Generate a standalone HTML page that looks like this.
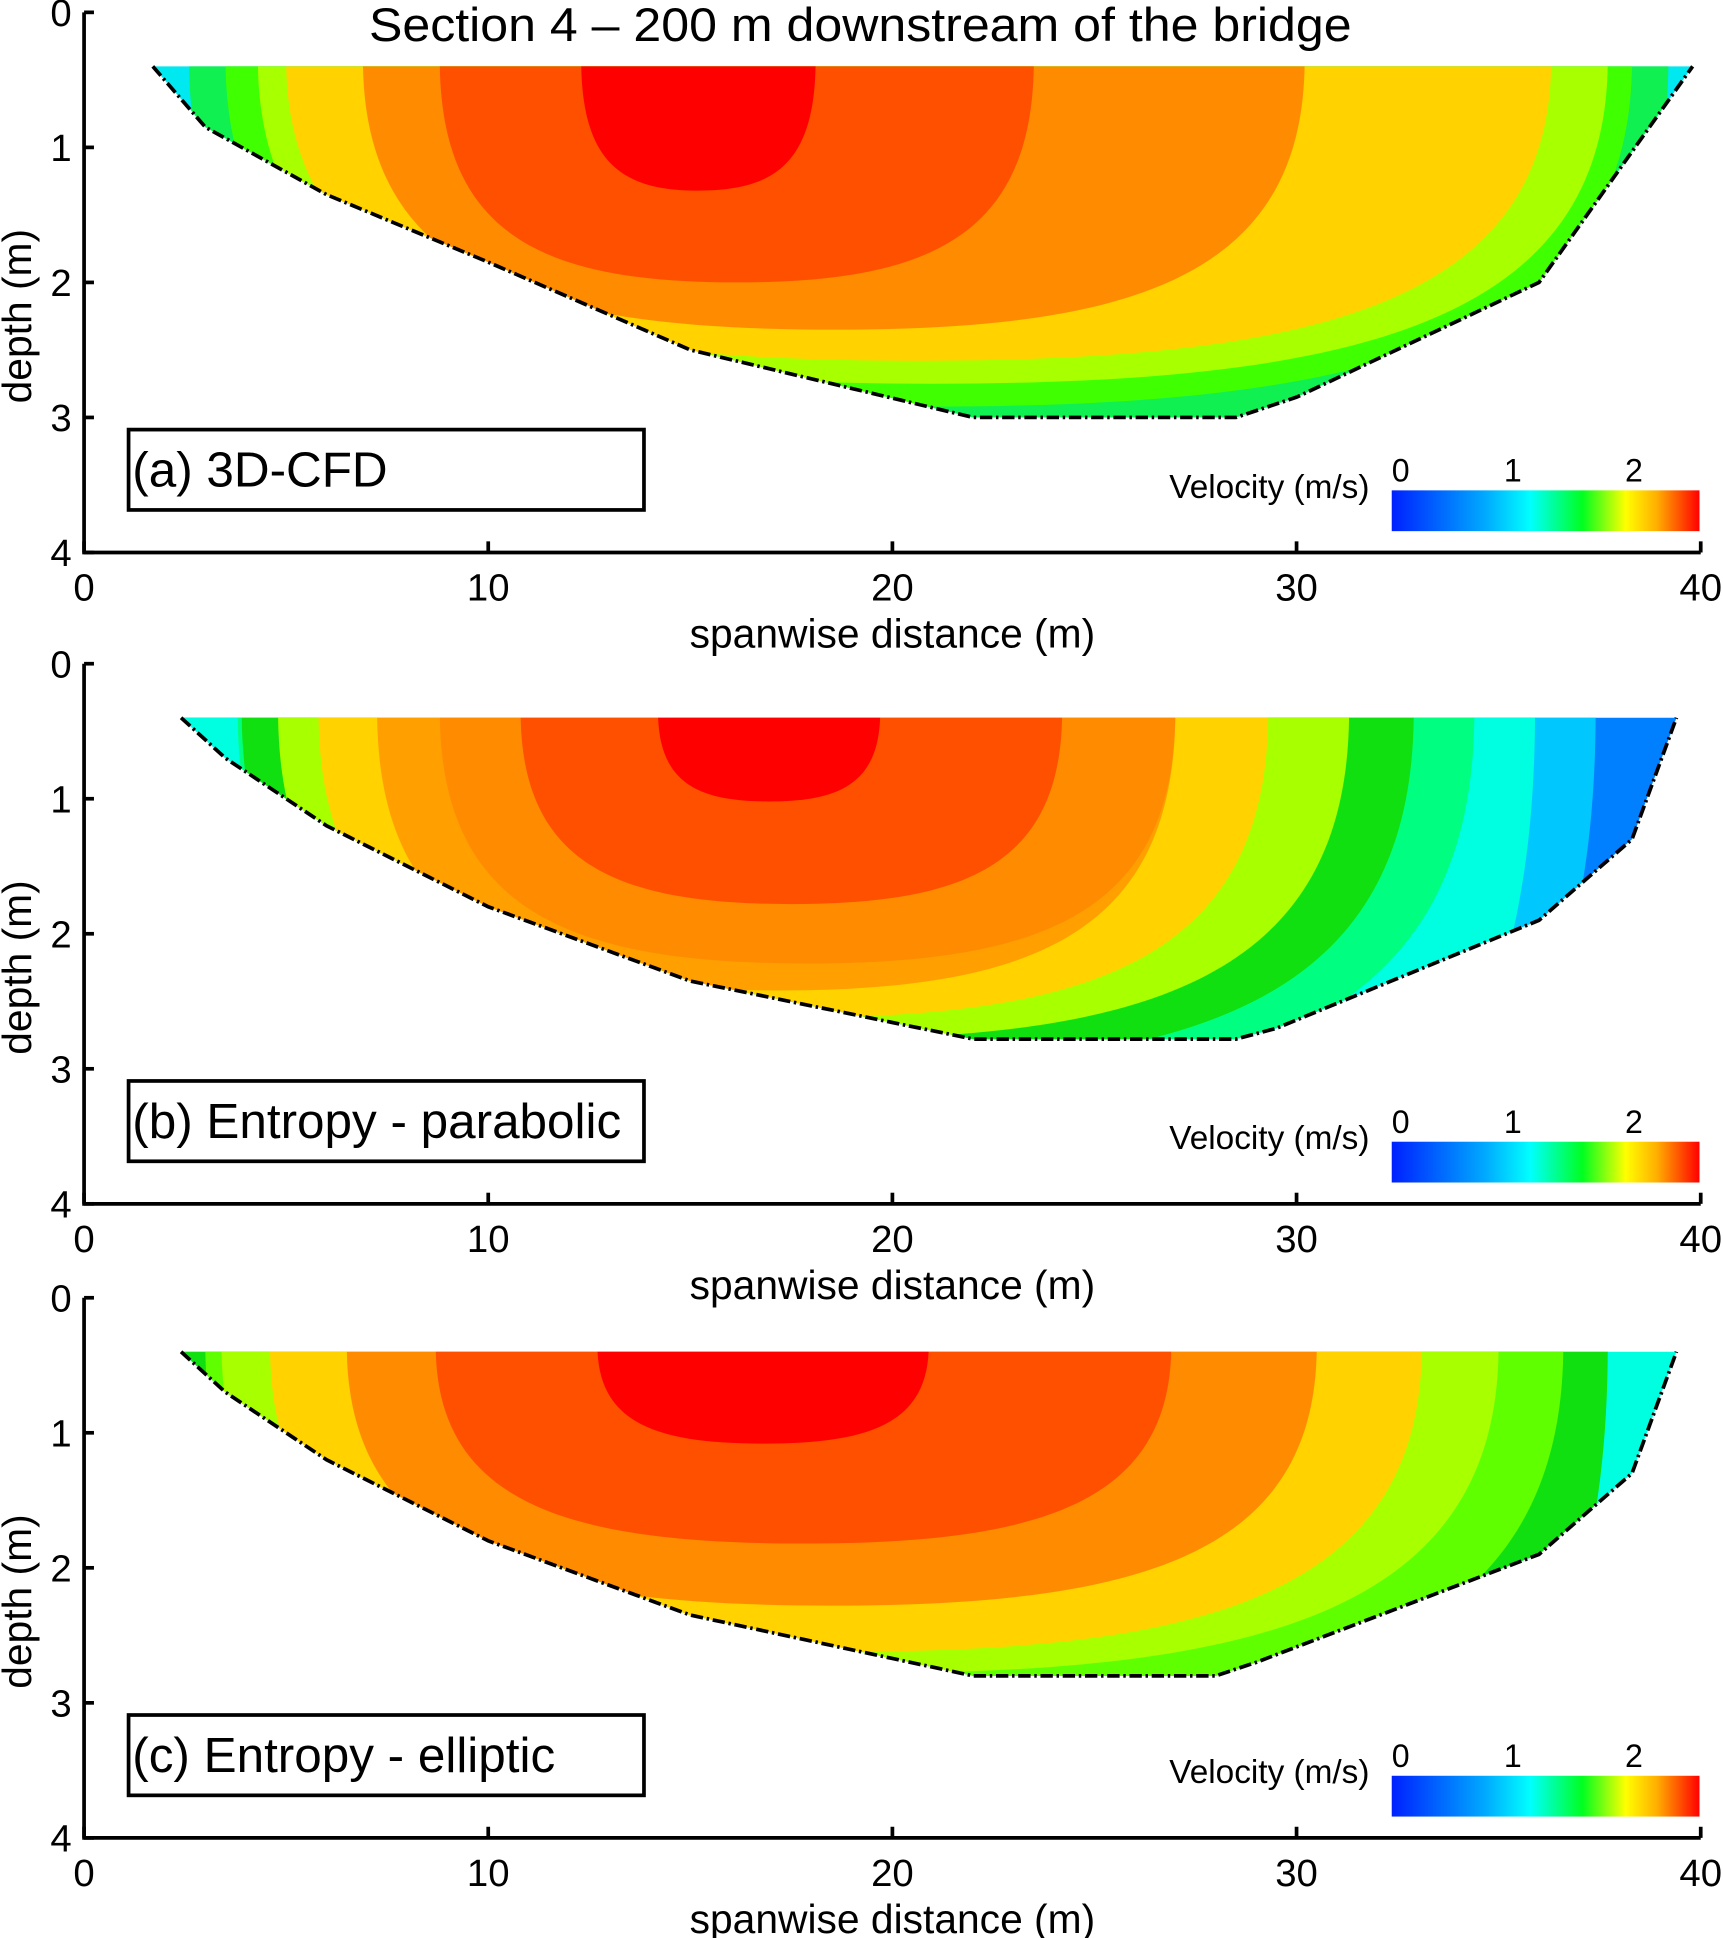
<!DOCTYPE html>
<html><head><meta charset="utf-8"><style>
html,body{margin:0;padding:0;background:#fff}
svg{display:block}
text{font-family:"Liberation Sans",Arial,sans-serif;fill:#000}
</style></head><body>
<svg id="chart" width="1723" height="1938" viewBox="0 0 1394 1568" xmlns="http://www.w3.org/2000/svg">
<defs>
<linearGradient id="jet" x1="0" x2="1" y1="0" y2="0">
<stop offset="0" stop-color="#0020ff"/><stop offset="0.3" stop-color="#00a8ff"/><stop offset="0.45" stop-color="#00ffff"/><stop offset="0.62" stop-color="#00ff20"/><stop offset="0.76" stop-color="#ffff00"/><stop offset="0.86" stop-color="#ffb000"/><stop offset="1" stop-color="#ff0000"/>
</linearGradient>
</defs>
<text x="696" y="33" font-size="38" text-anchor="middle" textLength="795" lengthAdjust="spacingAndGlyphs">Section 4 – 200 m downstream of the bridge</text>
</svg>
<script>
// panel layout: y of depth 0 for each panel
const panelTops = [10, 537, 1050];
const panelLabels = ["(a) 3D-CFD", "(b) Entropy - parabolic", "(c) Entropy - elliptic"];
const xTicks = [0, 10, 20, 30, 40];
const yTicks = [0, 1, 2, 3, 4];
const surfaceDepth = 0.4;
// bed profiles (spanwise m, depth m)
const bedA = [[1.7,0.4],[3,0.85],[6,1.35],[10,1.85],[15,2.5],[22,3.0],[28.5,3.0],[30,2.85],[36,2.0],[39.8,0.4]];
const bedB = [[2.4,0.4],[3.5,0.7],[6,1.2],[10,1.8],[15,2.35],[22,2.78],[28.5,2.78],[29.5,2.7],[36,1.9],[38.3,1.3],[39.4,0.4]];
const bedC = [[2.4,0.4],[3.5,0.7],[6,1.2],[10,1.8],[15,2.35],[22,2.8],[28,2.8],[29,2.7],[36,1.9],[38.3,1.3],[39.4,0.4]];
// contour bands: [leftX, rightX, depth, color]
const bandsA = [[-1,42,5,"#00e8f0"],[2.6,39.2,3.3,"#10f050"],[3.5,38.3,2.92,"#40ff00"],[4.3,37.7,2.75,"#a8ff00"],[5.0,36.3,2.58,"#ffd200"],[6.9,30.2,2.35,"#ff8c00"],[8.8,23.5,2.0,"#ff5000"],[12.3,18.1,1.32,"#ff0000"]];
const bandsB = [[-1,42,5,"#0080ff"],[-1,37.4,5,"#00c8ff"],[-1,35.9,5,"#00ffe0"],[3.8,34.4,3.2,"#00ff80"],[3.9,32.9,3.0,"#10e010"],[4.8,31.3,2.78,"#a8ff00"],[5.8,29.3,2.62,"#ffd200"],[7.25,27.0,2.42,"#ffa000"],[8.8,27.0,2.22,"#ff8c00"],[10.8,24.2,1.78,"#ff5000"],[14.2,19.7,1.02,"#ff0000"]];
const bandsC = [[-1,42,5,"#00ffe0"],[-1,37.7,5,"#10e010"],[3.0,36.6,3.1,"#60ff00"],[3.4,35.0,2.78,"#a8ff00"],[4.6,33.1,2.62,"#ffd200"],[6.5,30.5,2.28,"#ff8c00"],[8.7,26.9,1.82,"#ff5000"],[12.7,20.9,1.08,"#ff0000"]];
const beds = [bedA, bedB, bedC];
const bands = [bandsA, bandsB, bandsC];
const cbTicks = [0, 1, 2];

const NS = "http://www.w3.org/2000/svg";
const svg = document.getElementById("chart");
const X0 = 68, X1 = 1376, H = 437;
const sx = v => X0 + v * (X1 - X0) / 40;
function mk(tag, attrs, parent) {
  const e = document.createElementNS(NS, tag);
  for (const k in attrs) e.setAttribute(k, attrs[k]);
  (parent || svg).appendChild(e);
  return e;
}
panelTops.forEach((top, p) => {
  const sy = d => top + d * H / 4;
  const g = mk("g", {});
  
  
  const bed = beds[p];
  const poly = [[bed[0][0], surfaceDepth]].concat(bed).concat([[bed[bed.length-1][0], surfaceDepth]]);
  const pts = poly.map(q => sx(q[0]) + "," + sy(q[1])).join(" ");
  const cp = mk("clipPath", {id: "clip" + p}, g);
  mk("polygon", {points: pts}, cp);
  const cg = mk("g", {"clip-path": "url(#clip" + p + ")"}, g);
  bands[p].forEach((b, i) => {
    const L = sx(b[0]), R = sx(b[1]), s = sy(surfaceDepth - 0.05), d = sy(b[2]);
    const m = (L + R) / 2, w = R - L, h = d - s;
    const path = mk("path", {d: `M${L},${s} C${L},${s+h*0.8} ${L+w*0.18},${d} ${m},${d} C${R-w*0.18},${d} ${R},${s+h*0.8} ${R},${s} Z`, fill: b[3]}, cg);
    
    
  });
  const bl = mk("polyline", {points: bed.map(q => sx(q[0]) + "," + sy(q[1])).join(" "), fill: "none", stroke: "#000", "stroke-width": 3, "stroke-dasharray": "10,3,2,3"}, g);
  
  
  // axes
  const ax = mk("path", {d: `M${X0},${sy(0)} V${sy(4)} H${X1}`, fill: "none", stroke: "#000", "stroke-width": 3}, g);
  
  
  yTicks.forEach(t => {
    mk("line", {x1: X0, x2: X0 + 8, y1: sy(t), y2: sy(t), stroke: "#000", "stroke-width": 3}, g);
    const tl = mk("text", {x: X0 - 10, y: sy(t) + 11, "font-size": 31, "text-anchor": "end"}, g);
    tl.textContent = t;
    
    
  });
  xTicks.forEach(t => {
    mk("line", {x1: sx(t), x2: sx(t), y1: sy(4), y2: sy(4) - 9, stroke: "#000", "stroke-width": 3}, g);
    const tl = mk("text", {x: sx(t), y: sy(4) + 39, "font-size": 31, "text-anchor": "middle"}, g);
    tl.textContent = t;
    
    
  });
  const xl = mk("text", {x: 722, y: sy(4) + 77, "font-size": 33, "text-anchor": "middle"}, g);
  xl.textContent = "spanwise distance (m)";
  
  
  const yl = mk("text", {x: 0, y: 0, "font-size": 33, "text-anchor": "middle", transform: `translate(25,${sy(2.25)}) rotate(-90)`}, g);
  yl.textContent = "depth (m)";
  
  
  // label box
  const bx = mk("rect", {x: 104, y: sy(3.09), width: 417, height: 65, fill: "#fff", stroke: "#000", "stroke-width": 3}, g);
  
  
  const lt = mk("text", {x: 107, y: sy(3.09) + 46, "font-size": 40}, g);
  lt.textContent = panelLabels[p];
  
  
  // colorbar
  const cb = mk("rect", {x: 1126, y: sy(3.54), width: 249, height: 33, fill: "url(#jet)"}, g);
  
  
  cbTicks.forEach(t => {
    const ct = mk("text", {x: 1126 + t * 98, y: sy(3.54) - 7, "font-size": 26, "text-anchor": t === 0 ? "start" : "middle"}, g);
    ct.textContent = t;
    
    
  });
  const ctl = mk("text", {x: 1108, y: sy(3.54) + 6, "font-size": 27, "text-anchor": "end"}, g);
  ctl.textContent = "Velocity (m/s)";
  
  
});
</script>
</body></html>
